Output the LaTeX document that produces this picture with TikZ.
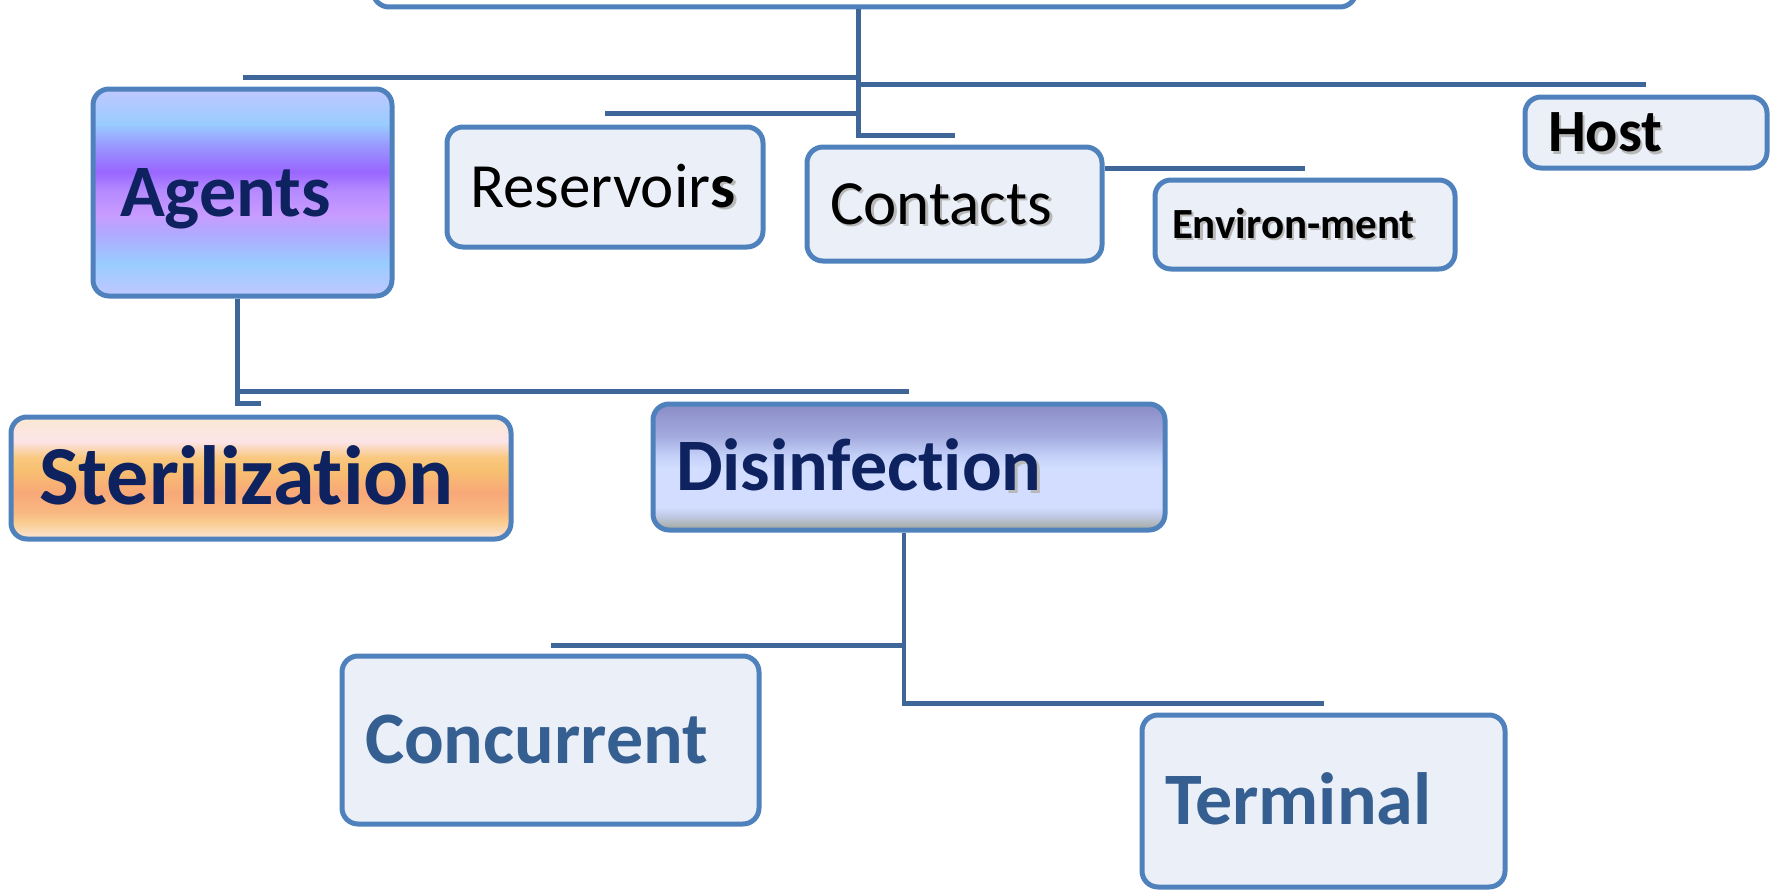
\documentclass[tikz,border=0pt]{standalone}
\usepackage{fontspec}
\setmainfont{Carlito}[Ligatures=NoCommon]
\usepackage{xcolor}

\definecolor{boxline}{RGB}{79,129,189}
\definecolor{linkblue}{RGB}{62,102,152}
\definecolor{boxfill}{RGB}{235,240,248}
\definecolor{navy}{RGB}{13,34,94}
\definecolor{steel}{RGB}{54,95,145}

% gradient colours of the three coloured boxes
\definecolor{agA}{HTML}{C0C8FF}
\definecolor{agB}{HTML}{99CCFF}
\definecolor{agC}{HTML}{9999FF}
\definecolor{agD}{HTML}{9966FF}
\definecolor{agE}{HTML}{B48AFF}
\definecolor{agF}{HTML}{C89AFF}
\definecolor{agG}{HTML}{B0AAFF}
\definecolor{stA}{HTML}{FBE8D2}
\definecolor{stB}{HTML}{FCE4E8}
\definecolor{stC}{HTML}{F9C880}
\definecolor{stD}{HTML}{F8C070}
\definecolor{stE}{HTML}{F8A878}
\definecolor{stF}{HTML}{F9B880}
\definecolor{stG}{HTML}{F9CC90}
\definecolor{stH}{HTML}{FCE6D8}
\definecolor{diA}{HTML}{8A8CC6}
\definecolor{diB}{HTML}{A4ACDF}
\definecolor{diC}{HTML}{C4D0F8}
\definecolor{diD}{HTML}{D2DDFF}
\definecolor{diE}{HTML}{C0C8E4}
\definecolor{diF}{HTML}{A0A898}

\pgfdeclareverticalshading{agentsfill}{100bp}{color(0bp)=(agA); color(25bp)=(agA);
  color(33bp)=(agB); color(40bp)=(agG); color(45bp)=(agF); color(50.5bp)=(agE);
  color(55bp)=(agD); color(61.5bp)=(agC); color(66.5bp)=(agB); color(75bp)=(agA); color(100bp)=(agA)}
\pgfdeclareverticalshading{sterilfill}{100bp}{color(0bp)=(stH); color(25bp)=(stH);
  color(32bp)=(stG); color(36bp)=(stF); color(44bp)=(stE); color(53.5bp)=(stD);
  color(58.5bp)=(stC); color(65bp)=(stB); color(75bp)=(stA); color(100bp)=(stA)}
\pgfdeclareverticalshading{disinffill}{100bp}{color(0bp)=(diF); color(25bp)=(diF);
  color(30.5bp)=(diE); color(34bp)=(diD); color(49.5bp)=(diD); color(54.5bp)=(diC);
  color(62bp)=(diB); color(75bp)=(diA); color(100bp)=(diA)}

% soft grey copy behind a word
\newcommand{\shad}[1]{\rlap{\hspace{2.5pt}\raisebox{-2.5pt}{\textcolor{black!28}{#1}}}#1}

\tikzset{
  box/.style={draw=boxline,line width=5pt,rounded corners=16pt,fill=boxfill,
    inner xsep=23pt,inner ysep=0pt,align=left,text depth=0pt},
  link/.style={draw=linkblue,line width=4.5pt},
}

\begin{document}
\begin{tikzpicture}[x=1pt,y=-1pt]
    \useasboundingbox (0,0) rectangle (1775,891);
    \clip (0,0) rectangle (1775,891);
    % first row
    \node[box,fill=white,minimum width=983pt,minimum height=96pt] (top) at (864.5,-41) {};
    \node[box,shade,shading=agentsfill,inner xsep=27pt,text width=245pt,minimum height=207pt,
      font=\fontsize{74}{74}\selectfont\bfseries,text=navy,text height=47pt] (agents) at (242.5,192.5) {Agents};
    \node[box,text width=270pt,minimum height=120pt,
      font=\fontsize{63}{63}\selectfont,text height=40pt] (res) at (605,187) {Reservoir\textbf{\shad{s}}};
    \node[box,text width=249pt,minimum height=114pt,
      font=\fontsize{63}{63}\selectfont,text height=40pt] (contacts) at (954.5,204) {\shad{Contacts}};
    \node[box,inner xsep=17pt,text width=266pt,minimum height=89pt,
      font=\fontsize{43}{43}\selectfont\bfseries,text height=27pt] (env) at (1305,224.5) {\shad{Environ-ment}};
    \node[box,text width=196pt,minimum height=71pt,
      font=\fontsize{60}{60}\selectfont\bfseries,text height=38pt] (host) at (1646,132.5) {\shad{Host}};
    % second row
    \node[box,shade,shading=sterilfill,inner xsep=28pt,text width=444pt,minimum height=122pt,
      font=\fontsize{84}{84}\selectfont\bfseries,text=navy,text height=53pt] (ster) at (261,478) {Sterilization};
    \node[box,shade,shading=disinffill,text width=466pt,minimum height=126pt,
      font=\fontsize{74}{74}\selectfont\bfseries,text=navy,text height=47pt] (dis) at (909,467) {Disinfectio\shad{n}};
    % third row
    \node[box,text width=371pt,minimum height=168pt,
      font=\fontsize{74}{74}\selectfont\bfseries,text=steel,text height=47pt] (conc) at (550.5,740) {Concurrent};
    \node[box,text width=317pt,minimum height=172pt,
      font=\fontsize{74}{74}\selectfont\bfseries,text=steel,text height=47pt] (term) at (1323.5,801) {Terminal};

    % connectors
    \draw[link] ([xshift=-6pt]top.south) |- ([yshift=9pt]agents.north);
    \draw[link] ([xshift=-6pt]top.south) |- ([yshift=10pt]host.north);
    \draw[link] ([xshift=-6pt]top.south) |- ([yshift=11pt]res.north);
    \draw[link] ([xshift=-6pt]top.south) |- ([yshift=9pt]contacts.north);
    \coordinate (envtop) at ([yshift=9pt]env.north);
    \draw[link] (contacts.east |- envtop) -- (envtop);
    \draw[link] ([xshift=-5pt]agents.south) |- ([yshift=10pt]dis.north);
    \draw[link] ([xshift=-5pt]agents.south) |- ([yshift=11pt]ster.north);
    \draw[link] ([xshift=-5pt]dis.south) |- ([yshift=8pt]conc.north);
    \draw[link] ([xshift=-5pt]dis.south) |- ([yshift=9pt]term.north);
\end{tikzpicture}
\end{document}
